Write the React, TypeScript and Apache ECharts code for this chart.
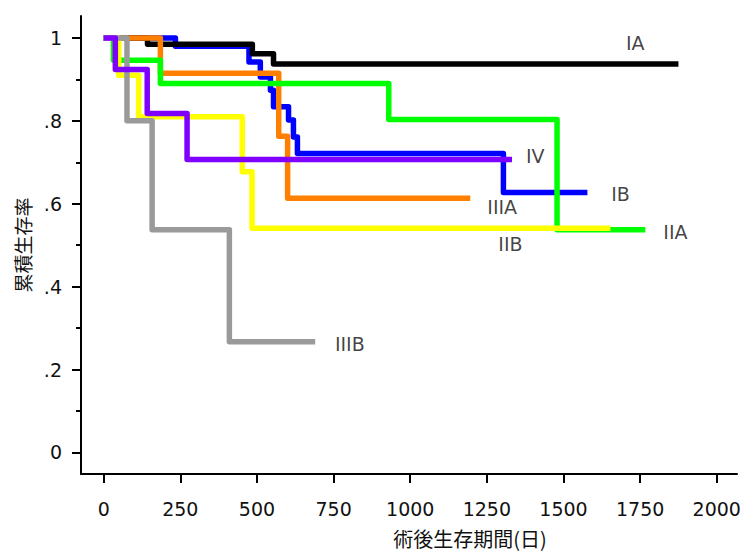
import React, { useEffect, useRef } from "react";
import * as echarts from "echarts";

// Kaplan–Meier step data: time (days) and survival level after each event
const IA_t = [0, 143, 485, 554, 1875];
const IA_s = [1, 0.985, 0.962, 0.937, 0.937];
const IB_t = [0, 234, 474, 511, 544, 554, 603, 619, 632, 1304, 1578];
const IB_s = [1, 0.98, 0.942, 0.906, 0.874, 0.834, 0.802, 0.761, 0.721, 0.627, 0.627];
const IIA_t = [0, 32, 185, 930, 1479, 1767];
const IIA_s = [1, 0.946, 0.89, 0.803, 0.537, 0.537];
const IIB_t = [0, 49, 114, 452, 484, 1653];
const IIB_s = [1, 0.91, 0.81, 0.677, 0.541, 0.541];
const IIIA_t = [0, 185, 571, 600, 1196];
const IIIA_s = [1, 0.915, 0.763, 0.613, 0.613];
const IIIB_t = [0, 76, 158, 410, 690];
const IIIB_s = [1, 0.8, 0.537, 0.267, 0.267];
const IV_t = [0, 38, 142, 272, 1332];
const IV_s = [1, 0.924, 0.818, 0.707, 0.707];

// Curve labels (name, x in days, y level)
const labelNames = ["IA", "IV", "IB", "IIIA", "IIA", "IIB", "IIIB"];
const labelX = [1734, 1408, 1686, 1300, 1865, 1327, 803];
const labelY = [0.987, 0.715, 0.623, 0.593, 0.533, 0.503, 0.262];

const xTicks = [0, 250, 500, 750, 1000, 1250, 1500, 1750, 2000];
const yTicks = [0, 0.2, 0.4, 0.6, 0.8, 1];
const yMinorTicks = [0.1, 0.3, 0.5, 0.7, 0.9];

const xTitle = "術後生存期間(日)";
const yTitle = "累積生存率";

const NUM_FONT = "'DejaVu Sans', sans-serif";
const CJK_FONT = "'Noto Sans CJK JP', sans-serif";

function zip(t: number[], s: number[]) {
  return t.map((v, i) => [v, s[i]]);
}

export default function App() {
  const ref = useRef<HTMLDivElement>(null);
  useEffect(() => {
    if (!ref.current) return;
    const chart = echarts.init(ref.current, null, { renderer: "svg" });
    const mk = (name: string, t: number[], s: number[], color: string) => ({
      name,
      type: "line",
      step: "end",
      data: zip(t, s),
      showSymbol: false,
      symbol: "none",
      lineStyle: { color, width: 5.5, cap: "butt", join: "round" },
      silent: true,
    });
    const yLabelFmt = (v: number) => {
      if (Math.abs(v) < 1e-9) return "0";
      if (Math.abs(v - 1) < 1e-9) return "1";
      return "." + Math.round(v * 10);
    };
    chart.setOption({
      animation: false,
      backgroundColor: "#ffffff",
      grid: { left: 81, right: 11, top: 16, bottom: 78 },
      xAxis: {
        type: "value",
        min: -74,
        max: 2066,
        axisLine: { onZero: false, lineStyle: { color: "#000", width: 2 } },
        axisTick: { show: true, length: 9, customValues: xTicks, lineStyle: { color: "#000", width: 2 } },
        axisLabel: {
          customValues: xTicks,
          formatter: (v: number) => String(v),
          margin: 25,
          fontSize: 19,
          fontFamily: NUM_FONT,
          color: "#111",
        },
        splitLine: { show: false },
      },
      yAxis: [
        {
          type: "value",
          min: -0.052,
          max: 1.053,
          axisLine: { show: true, onZero: false, lineStyle: { color: "#000", width: 2 } },
          axisTick: { show: true, length: 9, customValues: yTicks, lineStyle: { color: "#000", width: 2 } },
          axisLabel: {
            customValues: yTicks,
            formatter: yLabelFmt,
            margin: 19,
            fontSize: 19,
            fontFamily: NUM_FONT,
            color: "#111",
          },
          splitLine: { show: false },
        },
        {
          type: "value",
          position: "left",
          offset: 0,
          min: -0.052,
          max: 1.053,
          axisLine: { show: false, onZero: false },
          axisTick: { show: true, length: 5, customValues: yMinorTicks, lineStyle: { color: "#000", width: 2 } },
          axisLabel: { show: false },
          splitLine: { show: false },
        },
      ],
      series: [
        mk("IB", IB_t, IB_s, "#0000ff"),
        mk("IA", IA_t, IA_s, "#000000"),
        mk("IIIA", IIIA_t, IIIA_s, "#ff8000"),
        mk("IIA", IIA_t, IIA_s, "#00ff00"),
        mk("IIB", IIB_t, IIB_s, "#ffff00"),
        mk("IIIB", IIIB_t, IIIB_s, "#9a9a9a"),
        mk("IV", IV_t, IV_s, "#8000ff"),
        {
          name: "labels",
          type: "scatter",
          data: labelNames.map((n, i) => [labelX[i], labelY[i], n]),
          symbolSize: 1,
          itemStyle: { color: "rgba(0,0,0,0)" },
          silent: true,
          label: {
            show: true,
            position: "inside",
            formatter: (p: any) => p.value[2],
            fontSize: 19,
            fontFamily: NUM_FONT,
            color: "#111",
          },
        },
      ],
      graphic: [
        {
          type: "text",
          x: 470,
          y: 538,
          style: {
            text: xTitle,
            fontSize: 20,
            fontFamily: CJK_FONT,
            fill: "#111",
            align: "center",
            verticalAlign: "middle",
          },
        },
        {
          type: "text",
          x: 22,
          y: 245,
          rotation: Math.PI / 2,
          style: {
            text: yTitle,
            fontSize: 19,
            fontFamily: CJK_FONT,
            fill: "#111",
            align: "center",
            verticalAlign: "middle",
          },
        },
      ],
    });
    return () => chart.dispose();
  }, []);
  return (
    <div
      ref={ref}
      style={{ position: "absolute", left: 0, top: 0, width: 748, height: 552, background: "#fff" }}
    />
  );
}
